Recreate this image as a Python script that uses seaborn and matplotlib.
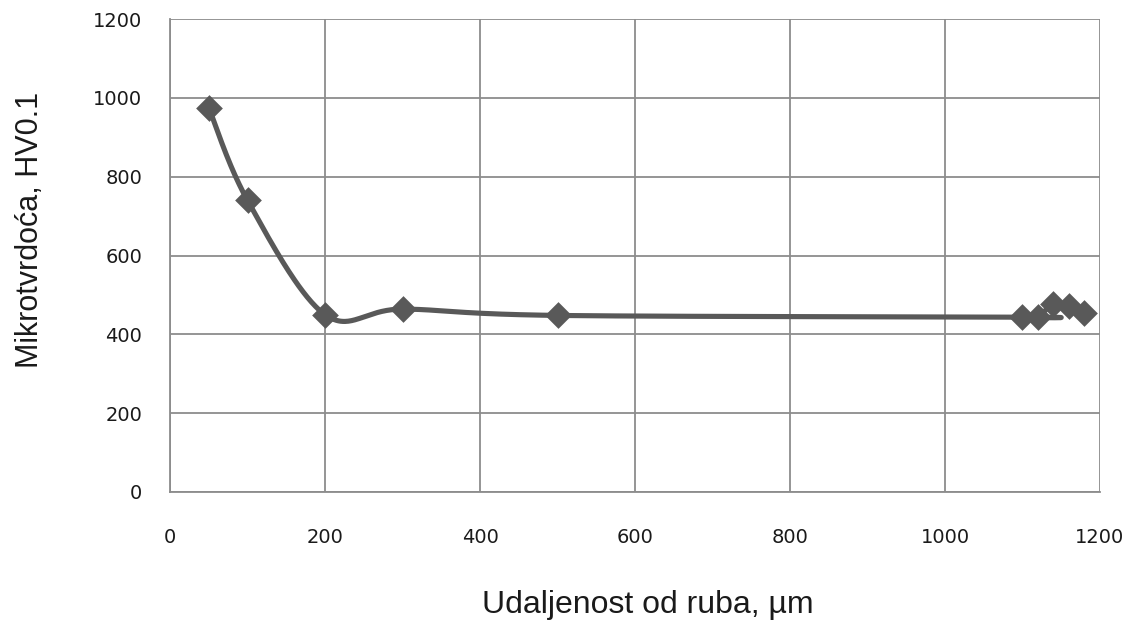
import numpy as np
import pandas as pd
import matplotlib
matplotlib.use('Agg')
import matplotlib.pyplot as plt
import seaborn as sns

# Measured points (distance from edge in um, microhardness HV0.1)
distance = [50, 100, 200, 300, 500, 1100, 1120, 1140, 1160, 1180]
hardness = [975, 740, 450, 464, 448, 444, 445, 478, 472, 454]

x_ticks = [0, 200, 400, 600, 800, 1000, 1200]
y_ticks = [0, 200, 400, 600, 800, 1000, 1200]

df = pd.DataFrame({'distance': distance, 'hardness': hardness})

# Smoothed line through the points (Catmull-Rom style Bezier, like Excel's "smoothed line")
def smooth_curve(xs, ys, n=60):
    pts = np.column_stack([xs, ys]).astype(float)
    out = []
    for i in range(len(pts) - 1):
        p0 = pts[i - 1] if i > 0 else pts[i]
        p1 = pts[i]
        p2 = pts[i + 1]
        p3 = pts[i + 2] if i + 2 < len(pts) else pts[i + 1]
        b1 = p1 + (p2 - p0) / 6
        b2 = p2 - (p3 - p1) / 6
        t = np.linspace(0, 1, n)[:, None]
        seg = ((1 - t) ** 3) * p1 + 3 * ((1 - t) ** 2) * t * b1 + 3 * (1 - t) * t ** 2 * b2 + t ** 3 * p2
        out.append(seg)
    curve = np.vstack(out)
    return curve[:, 0], curve[:, 1]

sx, sy = smooth_curve(df['distance'], df['hardness'])

sns.set_style('white')
plt.rcParams['font.family'] = ['DejaVu Sans']

fig = plt.figure(figsize=(11.38, 6.34), dpi=100)
ax = fig.add_axes([0.1494, 0.224, 0.8172, 0.746])

line_color = '#595959'
grid_color = '#8c8c8c'

ax.plot(sx, sy, color=line_color, linewidth=3.7, solid_capstyle='round', zorder=3)
sns.scatterplot(data=df, x='distance', y='hardness', marker='D', s=185,
                color=line_color, edgecolor=line_color, linewidth=0, ax=ax, zorder=4)

ax.set_xlim(0, 1200)
ax.set_ylim(0, 1200)
ax.set_xticks(x_ticks)
ax.set_yticks(y_ticks)
ax.grid(True, color=grid_color, linewidth=1.3)
ax.set_axisbelow(True)

for side in ['top', 'right']:
    ax.spines[side].set_visible(False)
for side in ['left', 'bottom']:
    ax.spines[side].set_color(grid_color)
    ax.spines[side].set_linewidth(1.3)

ax.tick_params(axis='both', direction='inout', length=14, width=1.3, color=grid_color,
               labelsize=14, labelcolor='#1a1a1a')
ax.tick_params(axis='x', pad=19)
ax.tick_params(axis='y', pad=13)

ax.set_xlabel('Udaljenost od ruba, µm', fontsize=23, family='Liberation Sans', color='#1a1a1a')
ax.set_ylabel('Mikrotvrdoća, HV0.1', fontsize=22, family='Liberation Sans', color='#1a1a1a')
ax.xaxis.set_label_coords(0.514, -0.207)
ax.yaxis.set_label_coords(-0.134, 0.555)

fig.savefig('out.png', dpi=100)
